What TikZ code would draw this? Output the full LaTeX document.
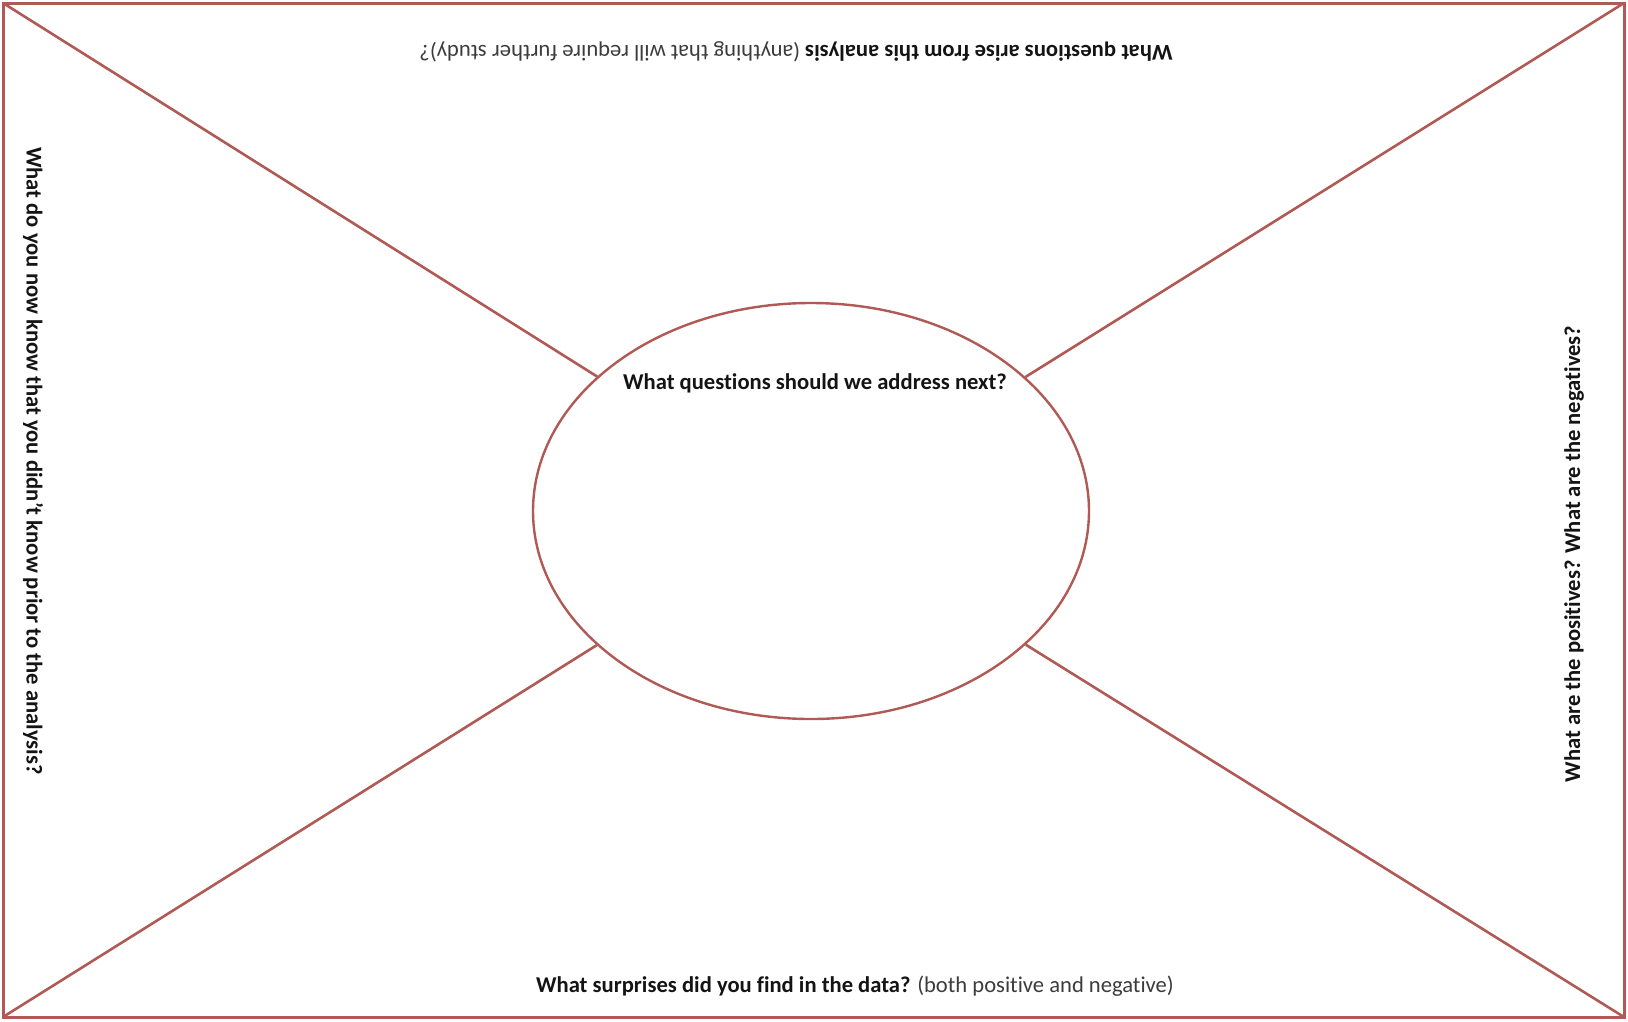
\documentclass[tikz,border=0pt]{standalone}
\usepackage{fontspec}
\setmainfont{Carlito}[Ligatures=NoCommon]
\usetikzlibrary{shapes.geometric}
\definecolor{frame}{RGB}{176,90,85}
\definecolor{txt}{RGB}{20,20,20}
\definecolor{txtlight}{RGB}{60,60,60}
\tikzset{
  edge/.style={draw=frame, line width=2.6pt},
  label/.style={inner sep=0pt, text=txt, font=\fontsize{22.6}{27}\selectfont},
}
\begin{document}
\begin{tikzpicture}[x=1pt,y=-1pt]
\useasboundingbox (0,0) rectangle (1628,1021);
\fill[white] (0,0) rectangle (1628,1021);
\coordinate (tl) at (3,3);
\coordinate (tr) at (1624,3);
\coordinate (br) at (1624,1017);
\coordinate (bl) at (3,1017);
\draw[edge, line width=3pt] (tl) -- (tr) -- (br) -- (bl) -- cycle;
\node[ellipse, draw=frame, line width=2.4pt, minimum width=556pt, minimum height=416pt, inner sep=0pt] (ell) at (811,511) {};
\draw[edge] (tl) -- (ell);
\draw[edge] (tr) -- (ell);
\draw[edge] (bl) -- (ell);
\draw[edge] (br) -- (ell);
\node[label] (center) at (815,383) {\bfseries What questions should we address next?};
\node[label, rotate=180] (top) at (796,52) {\bfseries What questions arise from this analysis \mdseries\color{txtlight}(anything that will require further study)?};
\node[label] (bottom) at (855,986) {\bfseries What surprises did you find in the data? \mdseries\color{txtlight}(both positive and negative)};
\node[label, rotate=-90] (left) at (33,461) {\bfseries What do you now know that you didn’t know prior to the analysis?};
\node[label, rotate=90] (right) at (1574,554) {\bfseries What are the positives? What are the negatives?};
\end{tikzpicture}
\end{document}
